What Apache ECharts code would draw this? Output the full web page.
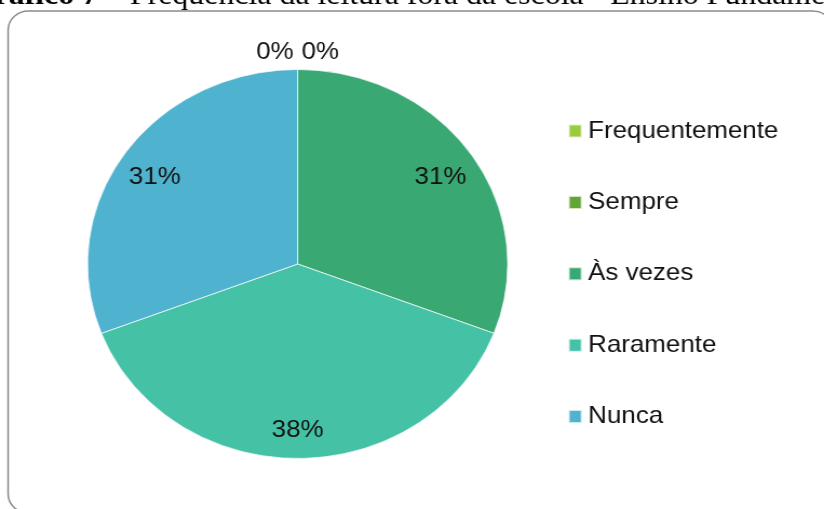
<!DOCTYPE html>
<html>
<head>
<meta charset="utf-8">
<script src="https://cdn.jsdelivr.net/npm/echarts/dist/echarts.min.js"></script>
<style>
	html, body { margin: 0; padding: 0; background: #fff; overflow: hidden; }
	/* a figura original foi esticada na horizontal */
	#chart { width: 763px; height: 509px; transform: scaleX(1.08); transform-origin: 0 0; }
</style>
</head>
<body>
<div id="chart"></div>
<script>
// dados do gráfico (percentuais)
var categorias = ['Frequentemente', 'Sempre', 'Às vezes', 'Raramente', 'Nunca'];
var valores = [0, 0, 30.8, 38.4, 30.8];
var cores = ['#9BCB3C', '#63A537', '#3AA873', '#45C2A5', '#4FB2CF'];
var titulo = 'Frequência da leitura fora da escola - Ensino Fundamental';

var raio = 194.5;
var centro = [275.6, 264];
var fonte = '"Liberation Sans", Arial, sans-serif';

// estilos dos rótulos (rich); o padding desloca o texto dentro do bloco
var estiloRotulo = { fontFamily: fonte, fontSize: 24, color: '#111' };
var richRotulos = {
	v: Object.assign({ padding: [9, 0, 0, 0] }, estiloRotulo),
	maior: Object.assign({ padding: [12, 0, 0, 0] }, estiloRotulo),
	esq: Object.assign({ padding: [11, 42, 0, 0] }, estiloRotulo),
	dir: Object.assign({ padding: [11, 0, 0, 42] }, estiloRotulo)
};

var maiorValor = Math.max.apply(null, valores);

// série principal (setores)
let dadosPizza = [];
// rótulos dentro dos setores
let dadosRotulos = [];
// rótulos dos valores zerados, acima da pizza
let dadosZeros = [];
let ladoZero = 0;
for (let i = 0; i < categorias.length; i++) {
	dadosPizza.push({ name: categorias[i], value: valores[i], itemStyle: { color: cores[i] } });
	dadosRotulos.push({
		name: categorias[i],
		value: valores[i],
		estilo: valores[i] == maiorValor ? 'maior' : 'v',
		label: { show: valores[i] > 0 }
	});
	let estilo = 'v';
	if (valores[i] == 0) {
		estilo = ladoZero == 0 ? 'esq' : 'dir';
		ladoZero++;
	}
	dadosZeros.push({
		name: categorias[i],
		value: valores[i],
		estilo: estilo,
		label: { show: valores[i] == 0 }
	});
}

function pct(p) {
	let estilo = p.data.estilo || 'v';
	return '{' + estilo + '|' + Math.round(p.percent) + '%}';
}

let chart = echarts.init(document.getElementById('chart'));

let chartOption = {
	animation: false,
	backgroundColor: '#fff',
	title: {
		text: '{b|Gráfico 7 –} ' + titulo,
		left: -28,
		top: -19,
		padding: 0,
		textStyle: {
			fontFamily: '"Liberation Serif", "Times New Roman", serif',
			fontSize: 29.5,
			fontWeight: 'normal',
			color: '#000',
			rich: {
				b: {
					fontFamily: '"Liberation Serif", "Times New Roman", serif',
					fontSize: 29.5,
					fontWeight: 'bold',
					color: '#000'
				}
			}
		}
	},
	graphic: [{
		type: 'rect',
		z: -1,
		shape: { x: 7.5, y: 11, width: 764, height: 502, r: 19 },
		style: { fill: 'none', stroke: '#8c8c8c', lineWidth: 1.5 }
	}],
	legend: {
		orient: 'vertical',
		left: 520.6,
		top: 114,
		icon: 'rect',
		itemWidth: 12,
		itemHeight: 13,
		itemGap: 47.4,
		selectedMode: false,
		data: categorias,
		textStyle: {
			fontFamily: fonte,
			fontSize: 24,
			lineHeight: 24,
			color: '#111',
			padding: [0, 0, 0, 1]
		}
	},
	series: [{
		name: 'pizza',
		type: 'pie',
		center: centro,
		radius: raio,
		startAngle: 90,
		clockwise: true,
		silent: true,
		label: { show: false },
		labelLine: { show: false },
		itemStyle: { borderColor: 'rgba(255,255,255,0.7)', borderWidth: 1 },
		data: dadosPizza
	}, {
		name: 'rotulos',
		type: 'pie',
		center: centro,
		radius: [120.6, raio],
		startAngle: 90,
		silent: true,
		itemStyle: { color: 'rgba(0,0,0,0)' },
		label: { position: 'inside', formatter: pct, rich: richRotulos },
		labelLine: { show: false },
		data: dadosRotulos
	}, {
		name: 'zeros',
		type: 'pie',
		center: centro,
		radius: [raio, raio + 40],
		startAngle: 90,
		silent: true,
		itemStyle: { color: 'rgba(0,0,0,0)' },
		label: { position: 'inside', formatter: pct, rich: richRotulos },
		labelLine: { show: false },
		data: dadosZeros
	}]
};

chart.setOption(chartOption);
</script>
</body>
</html>
